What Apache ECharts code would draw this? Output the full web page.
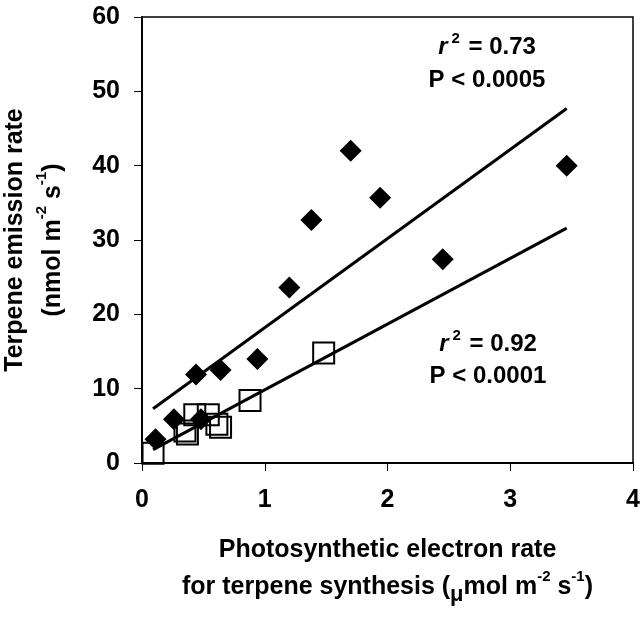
<!DOCTYPE html>
<html>
<head>
<meta charset="utf-8">
<script src="https://cdn.jsdelivr.net/npm/echarts@6/dist/echarts.min.js"></script>
<style>html,body{margin:0;padding:0;background:#fff;}#c{width:641px;height:619px;}</style>
</head>
<body>
<div id="c"></div>
<script>
// Filled diamonds
const fullX = [0.11, 0.26, 0.44, 0.48, 0.64, 0.94, 1.20, 1.38, 1.70, 1.94, 2.45, 3.46];
const fullY = [3.2, 5.9, 11.9, 5.9, 12.5, 14.0, 23.6, 32.7, 42.0, 35.7, 27.4, 40.0];
// Open squares
const openX = [0.09, 0.35, 0.37, 0.43, 0.54, 0.61, 0.64, 0.88, 1.48];
const openY = [1.3, 4.3, 3.9, 6.5, 6.5, 5.2, 4.8, 8.4, 14.8];
// Regression line end points
const fitFullX = [0.09, 3.46];
const fitFullY = [7.3, 47.7];
const fitOpenX = [0.09, 3.46];
const fitOpenY = [1.8, 31.6];
// Tick labels
const xTicks = [0, 1, 2, 3, 4];
const yTicks = [0, 10, 20, 30, 40, 50, 60];

const FONT = '"Liberation Sans", Arial, sans-serif';
const zip = (xs, ys) => xs.map((x, i) => [x, ys[i]]);

const chart = echarts.init(document.getElementById('c'), null, {renderer: 'canvas'});
const option = {
  animation: false,
  backgroundColor: '#fff',
  textStyle: {fontFamily: FONT},
  grid: {left: 142, right: 8, top: 17, bottom: 156, containLabel: false, outerBoundsMode: 'none',
         show: true, borderColor: '#000', borderWidth: 1.5, backgroundColor: 'transparent'},
  xAxis: {
    type: 'value',
    min: xTicks[0], max: xTicks[xTicks.length - 1], interval: 1,
    axisLine: {lineStyle: {color: '#000', width: 2}},
    axisTick: {show: true, length: 8, lineStyle: {color: '#000', width: 1}},
    splitLine: {show: false},
    axisLabel: {color: '#000', fontSize: 25, fontWeight: 'bold', fontFamily: FONT, margin: 25},
    nameLocation: 'middle',
    nameGap: 69,
    name: '{b|Photosynthetic electron rate}\n{b|for terpene synthesis (}{mu|μ}{b|mol m}{sup|-2}{b| s}{sup|-1}{b|)}',
    nameTextStyle: {
      fontFamily: FONT, color: '#000', fontWeight: 'bold', fontSize: 25, lineHeight: 37,
      rich: {
        b: {fontFamily: FONT, fontWeight: 'bold', fontSize: 25, lineHeight: 37, color: '#000'},
        sup: {fontFamily: FONT, fontWeight: 'bold', fontSize: 15, lineHeight: 24, verticalAlign: 'top', color: '#000'},
        mu: {fontFamily: FONT, fontWeight: 'bold', fontSize: 22, lineHeight: 20, verticalAlign: 'bottom', color: '#000'}
      }
    }
  },
  yAxis: {
    type: 'value',
    min: yTicks[0], max: yTicks[yTicks.length - 1], interval: 10,
    axisLine: {show: true, lineStyle: {color: '#000', width: 2}},
    axisTick: {show: true, length: 8, lineStyle: {color: '#000', width: 1}},
    splitLine: {show: false},
    axisLabel: {color: '#000', fontSize: 25, fontWeight: 'bold', fontFamily: FONT, margin: 22},
    nameLocation: 'middle',
    nameGap: 70,
    name: '{b|Terpene emission rate}\n{b|(nmol m}{sup|-2}{b| s}{sup|-1}{b|)}',
    nameTextStyle: {
      fontFamily: FONT, color: '#000', fontWeight: 'bold', fontSize: 25, lineHeight: 38,
      rich: {
        b: {fontFamily: FONT, fontWeight: 'bold', fontSize: 25, lineHeight: 38, color: '#000'},
        sup: {fontFamily: FONT, fontWeight: 'bold', fontSize: 15, lineHeight: 26, verticalAlign: 'top', color: '#000'}
      }
    }
  },
  series: [
    {
      type: 'scatter', name: 'open', z: 2,
      data: zip(openX, openY),
      symbol: 'rect', symbolSize: 21,
      itemStyle: {color: 'rgba(255,255,255,0)', borderColor: '#000', borderWidth: 2, opacity: 1}
    },
    {
      type: 'line', name: 'fitFull', z: 3,
      data: zip(fitFullX, fitFullY),
      showSymbol: false, symbol: 'none',
      lineStyle: {color: '#000', width: 3}
    },
    {
      type: 'line', name: 'fitOpen', z: 3,
      data: zip(fitOpenX, fitOpenY),
      showSymbol: false, symbol: 'none',
      lineStyle: {color: '#000', width: 3}
    },
    {
      type: 'scatter', name: 'full', z: 4,
      data: zip(fullX, fullY),
      symbol: 'diamond', symbolSize: 22,
      itemStyle: {color: '#000', opacity: 1}
    }
  ],
  graphic: [
    {
      type: 'text', x: 487, y: 31, z: 10,
      style: {
        text: '{i|r}{s|2}{b| = 0.73}\n{b|P < 0.0005}',
        align: 'center', verticalAlign: 'top',
        rich: {
          i: {fontFamily: FONT, fontWeight: 'bold', fontStyle: 'italic', fontSize: 24, lineHeight: 33, fill: '#000', color: '#000'},
          b: {fontFamily: FONT, fontWeight: 'bold', fontSize: 24, lineHeight: 33, fill: '#000', color: '#000'},
          s: {fontFamily: FONT, fontWeight: 'bold', fontSize: 15, lineHeight: 15, verticalAlign: 'top', padding: [0, 2, 0, 4], fill: '#000', color: '#000'}
        }
      }
    },
    {
      type: 'text', x: 488, y: 328, z: 10,
      style: {
        text: '{i|r}{s|2}{b| = 0.92}\n{b|P < 0.0001}',
        align: 'center', verticalAlign: 'top',
        rich: {
          i: {fontFamily: FONT, fontWeight: 'bold', fontStyle: 'italic', fontSize: 24, lineHeight: 32, fill: '#000', color: '#000'},
          b: {fontFamily: FONT, fontWeight: 'bold', fontSize: 24, lineHeight: 32, fill: '#000', color: '#000'},
          s: {fontFamily: FONT, fontWeight: 'bold', fontSize: 15, lineHeight: 15, verticalAlign: 'top', padding: [0, 2, 0, 4], fill: '#000', color: '#000'}
        }
      }
    }
  ]
};
chart.setOption(option);
</script>
</body>
</html>
